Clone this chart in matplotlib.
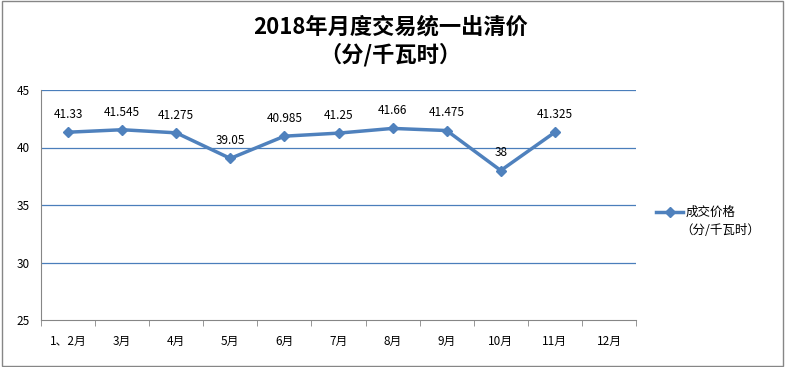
import numpy as np
import matplotlib.pyplot as plt
from matplotlib.patches import Rectangle

plt.rcParams['font.family'] = ['Noto Sans CJK SC', 'DejaVu Sans']

# data
months = ['1、2月', '3月', '4月', '5月', '6月', '7月', '8月', '9月', '10月', '11月', '12月']
prices = [41.33, 41.545, 41.275, 39.05, 40.985, 41.25, 41.66, 41.475, 38, 41.325]
price_labels = ['41.33', '41.545', '41.275', '39.05', '40.985', '41.25', '41.66', '41.475', '38', '41.325']
yticks = [25, 30, 35, 40, 45]

blue = '#4f81bd'
grey = '#868686'

fig = plt.figure(figsize=(7.85, 3.67), dpi=100)
ax = fig.add_axes([41/785, 1 - 320/367, 595/785, 230/367])

x = np.arange(len(prices))
ax.plot(x, prices, color=blue, lw=2.5, marker='D', markersize=5, zorder=3)
for xi, yi, lab in zip(x, prices, price_labels):
    ax.annotate(lab, (xi, yi), xytext=(0, 8), textcoords='offset points',
                ha='center', va='bottom', fontsize=8.5, color='black')

ax.set_xlim(-0.5, len(months) - 0.5)
ax.set_ylim(25, 45)
ax.set_yticks(yticks)
ax.set_yticklabels([str(v) for v in yticks], fontsize=8.5)
ax.set_xticks(np.arange(len(months)))
ax.set_xticklabels(months, fontsize=8.5)
ax.set_xticks(np.arange(len(months) + 1) - 0.5, minor=True)
ax.tick_params(axis='x', which='major', length=0, pad=11)
ax.tick_params(axis='x', which='minor', length=4, color=grey, direction='out')
ax.tick_params(axis='y', length=0, pad=8)

for v in yticks[1:]:
    ax.axhline(v, color='#4a7ebb', lw=0.9, zorder=1)

for s in ['top', 'right']:
    ax.spines[s].set_visible(False)
ax.spines['left'].set_color(grey)
ax.spines['bottom'].set_color(grey)

fig.text(0.497, 1 - 27/367, '2018年月度交易统一出清价', ha='center', va='center',
         fontsize=16, fontweight='bold')
fig.text(0.497, 1 - 55/367, '（分/千瓦时）', ha='center', va='center',
         fontsize=16, fontweight='bold')

# legend
legend_y = 1 - 212/367
fig.add_artist(plt.Line2D([656/785, 669.5/785, 683/785], [legend_y] * 3, color=blue, lw=2.5,
                          marker='D', markersize=5, markevery=[1], transform=fig.transFigure))
fig.text(686/785, legend_y, '成交价格', ha='left', va='center', fontsize=9)
fig.text(680/785, 1 - 230/367, '（分/千瓦时）', ha='left', va='center', fontsize=9)

fig.add_artist(Rectangle((0.002, 0.003), 0.996, 0.994, transform=fig.transFigure,
                         fill=False, edgecolor=grey, lw=1))

fig.savefig('out.png', dpi=100)
